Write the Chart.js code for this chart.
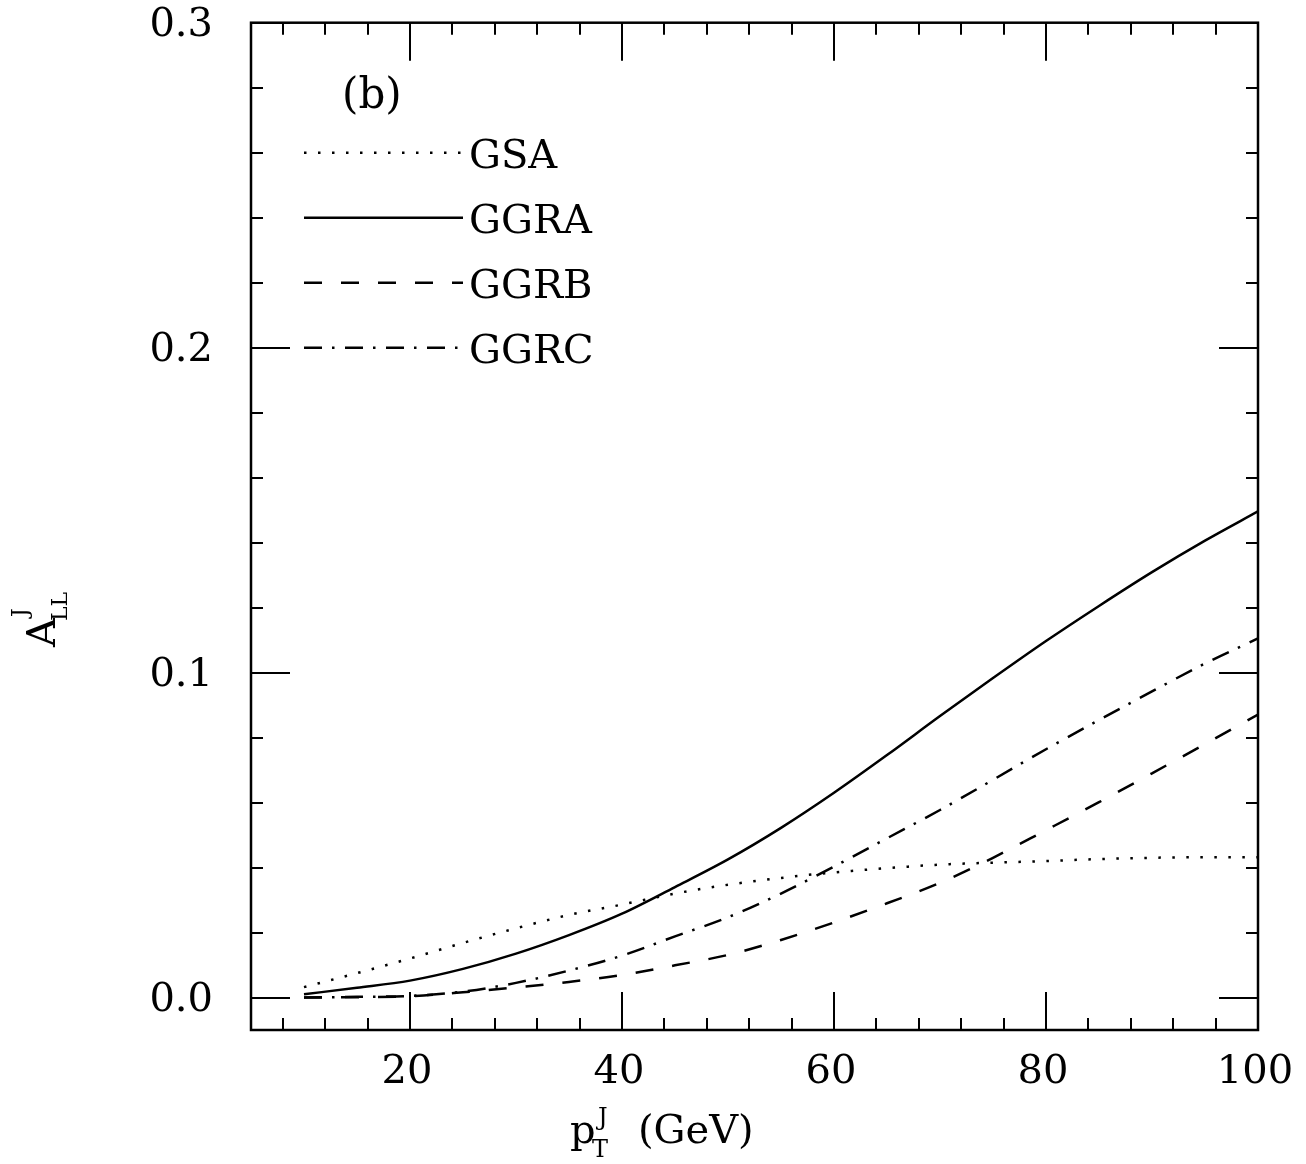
<!DOCTYPE html>
<html>
<head>
<meta charset="utf-8">
<script src="https://cdn.jsdelivr.net/npm/chart.js@4.4.0/dist/chart.umd.min.js"></script>
<style>
  html, body { margin: 0; padding: 0; background: #fff; }
  #wrap { width: 1306px; height: 1164px; }
</style>
</head>
<body>
<div id="wrap"><canvas id="chart"></canvas></div>
<script>
// --- datos (b) ---
const ptJ = [10, 15, 20, 25, 30, 35, 40, 45, 50, 55, 60, 65, 70, 75, 80, 85, 90, 95, 100];
const gsa  = [0.0032, 0.0075, 0.0120, 0.0168, 0.0213, 0.0254, 0.0286, 0.0320, 0.0347, 0.0368, 0.0385, 0.0398, 0.0409, 0.0415, 0.0420, 0.0426, 0.0430, 0.0432, 0.0432];
const ggra = [0.0010, 0.0030, 0.0052, 0.0088, 0.0135, 0.0192, 0.0258, 0.0340, 0.0425, 0.0522, 0.0630, 0.0746, 0.0866, 0.0983, 0.1097, 0.1205, 0.1309, 0.1406, 0.1496];
const ggrb = [0.0000, 0.0001, 0.0004, 0.0016, 0.0031, 0.0048, 0.0069, 0.0099, 0.0131, 0.0177, 0.0231, 0.0290, 0.0353, 0.0430, 0.0515, 0.0601, 0.0690, 0.0780, 0.0871];
const ggrc = [0.0000, 0.0002, 0.0005, 0.0018, 0.0045, 0.0083, 0.0129, 0.0188, 0.0247, 0.0320, 0.0403, 0.0490, 0.0577, 0.0670, 0.0764, 0.0854, 0.0942, 0.1028, 0.1105];
const seriesNames = ['GSA', 'GGRA', 'GGRB', 'GGRC'];

// ticks
const xTickLabels = [20, 40, 60, 80, 100];
const xTickMarks = [8, 12, 16, 20, 24, 28, 32, 36, 40, 44, 48, 52, 56, 60, 64, 68, 72, 76, 80, 84, 88, 92, 96, 100];
const yTickLabels = [0.0, 0.1, 0.2, 0.3];
const yTickMarks = [0, 0.02, 0.04, 0.06, 0.08, 0.1, 0.12, 0.14, 0.16, 0.18, 0.2, 0.22, 0.24, 0.26, 0.28, 0.3];

// estilos de linea (mismo orden que seriesNames)
const dashes = [[2.5, 11.5], [], [18, 19], [18, 10, 2.5, 10.5]];
const FONT = "'DejaVu Serif', serif";

Chart.defaults.font.family = FONT;
Chart.defaults.font.size = 40;
Chart.defaults.color = '#000';

function toPoints(ys) {
  return ptJ.map((x, i) => ({ x: x, y: ys[i] }));
}

const allSeries = [gsa, ggra, ggrb, ggrc];
const datasets = allSeries.map((ys, i) => ({
  label: seriesNames[i],
  data: toPoints(ys),
  borderColor: '#000',
  borderWidth: 2.5,
  borderDash: dashes[i],
  pointRadius: 0,
  fill: false,
  cubicInterpolationMode: 'monotone'
}));

// --- marco, ticks hacia dentro, leyenda y titulos ---
const isMajorY = v => Math.abs(v * 10 - Math.round(v * 10)) < 1e-9;

const framePlugin = {
  id: 'frame',
  afterDraw(chart) {
    const { ctx, chartArea: a, scales: { x, y } } = chart;
    ctx.save();
    ctx.strokeStyle = '#000';
    ctx.lineWidth = 2.5;
    ctx.setLineDash([]);
    ctx.strokeRect(a.left, a.top, a.right - a.left, a.bottom - a.top);

    ctx.lineWidth = 2;
    ctx.beginPath();
    xTickMarks.forEach(v => {
      const px = Math.round(x.getPixelForValue(v));
      const len = xTickLabels.includes(v) ? 38 : 12;
      ctx.moveTo(px, a.bottom); ctx.lineTo(px, a.bottom - len);
      ctx.moveTo(px, a.top); ctx.lineTo(px, a.top + len);
    });
    yTickMarks.forEach(v => {
      const py = Math.round(y.getPixelForValue(v));
      const len = isMajorY(v) ? 39 : 12;
      ctx.moveTo(a.left, py); ctx.lineTo(a.left + len, py);
      ctx.moveTo(a.right, py); ctx.lineTo(a.right - len, py);
    });
    ctx.stroke();

    // leyenda: muestras de linea entre x=10 y x=25
    const legY = [0.26, 0.24, 0.22, 0.20];
    const lx0 = x.getPixelForValue(10), lx1 = x.getPixelForValue(25);
    ctx.lineWidth = 2.5;
    ctx.fillStyle = '#000';
    ctx.font = '40px ' + FONT;
    ctx.textBaseline = 'middle';
    ctx.textAlign = 'left';
    seriesNames.forEach((name, i) => {
      const py = y.getPixelForValue(legY[i]);
      ctx.beginPath();
      ctx.setLineDash(dashes[i]);
      ctx.moveTo(lx0, py); ctx.lineTo(lx1, py);
      ctx.stroke();
      ctx.fillText(name, lx1 + 6, py + 5);
    });
    ctx.setLineDash([]);

    // etiqueta del panel
    ctx.textBaseline = 'alphabetic';
    ctx.font = '42px ' + FONT;
    ctx.fillText('(b)', 342, 108);

    // titulo eje x: p_T^J (GeV)
    ctx.font = '40px ' + FONT;
    ctx.fillText('p', 570, 1143);
    ctx.font = '24px ' + FONT;
    ctx.fillText('T', 592, 1157);
    ctx.fillText('J', 598, 1125);
    ctx.font = '40px ' + FONT;
    ctx.fillText('(GeV)', 638, 1143);

    // titulo eje y: A_LL^J (rotado)
    ctx.translate(55, 647);
    ctx.rotate(-Math.PI / 2);
    ctx.font = '40px ' + FONT;
    ctx.fillText('A', 0, 0);
    ctx.font = '22px ' + FONT;
    ctx.fillText('LL', 26, 12);
    ctx.fillText('J', 30, -28);
    ctx.restore();
  }
};

new Chart(document.getElementById('chart').getContext('2d'), {
  type: 'line',
  data: { datasets: datasets },
  options: {
    responsive: true,
    maintainAspectRatio: false,
    animation: false,
    layout: { padding: { top: 22.7, right: 48, left: 0, bottom: 0 } },
    plugins: { legend: { display: false }, tooltip: { enabled: false } },
    scales: {
      x: {
        type: 'linear',
        min: 5,
        max: 100,
        grid: { display: false },
        border: { display: false },
        afterBuildTicks: s => { s.ticks = xTickLabels.map(v => ({ value: v })); },
        afterFit: s => { s.height = 134; s.paddingLeft = 0; s.paddingRight = 0; },
        ticks: { padding: 11, labelOffset: -3, maxRotation: 0, callback: v => String(v) }
      },
      y: {
        type: 'linear',
        min: -0.01,
        max: 0.3,
        grid: { display: false },
        border: { display: false },
        afterBuildTicks: s => { s.ticks = yTickLabels.map(v => ({ value: v })); },
        afterFit: s => { s.width = 251; s.paddingTop = 0; s.paddingBottom = 0; },
        ticks: { padding: 30, labelOffset: 3, callback: v => Number(v).toFixed(1) }
      }
    }
  },
  plugins: [framePlugin]
});
</script>
</body>
</html>
